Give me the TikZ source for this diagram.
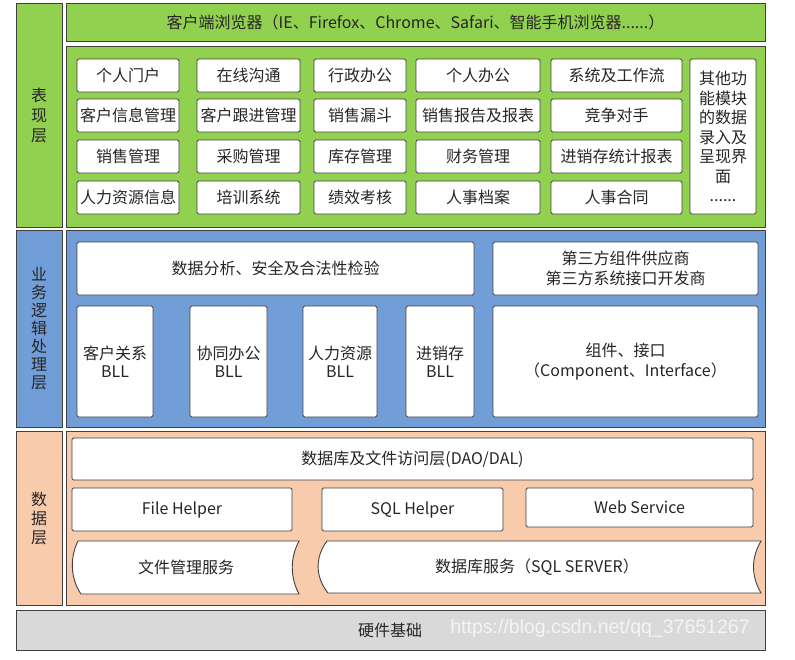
\documentclass[tikz,border=0pt]{standalone}
\usepackage{fontspec}
\setmainfont{Noto Sans CJK SC}
\newfontfamily\wmfont{Liberation Sans}
\definecolor{grn}{HTML}{92D050}
\definecolor{blu}{HTML}{729ED8}
\definecolor{pch}{HTML}{F8CBAD}
\definecolor{gry}{HTML}{D9D9D9}
\definecolor{edgec}{HTML}{404040}
\definecolor{txtc}{HTML}{262626}
\definecolor{wmc}{HTML}{F4F4F4}
\tikzset{
  bx/.style={draw=edgec, line width=0.9pt, fill=white, rounded corners=1.5pt, inner sep=0pt, align=center, text=txtc, font=\fontsize{16}{18}\selectfont},
  lyr/.style={draw=edgec, line width=0.9pt, fill=#1, inner sep=0pt, align=center, text=txtc},
  tapebox/.style={draw=edgec, line width=0.9pt, fill=white},
  txt/.style={text=txtc, font=\fontsize{16}{18}\selectfont, inner sep=0pt, align=center}
}
\newcommand\Bx[7][]{\node[bx,#1, minimum width={(#5-#3)*1pt}, minimum height={(#6-#4)*1pt}] (#2) at ({(#3+#5)/2},{(#4+#6)/2}) {#7};}
\newcommand\Ly[7][]{\node[lyr=#1, minimum width={(#5-#3)*1pt}, minimum height={(#6-#4)*1pt}] (#2) at ({(#3+#5)/2},{(#4+#6)/2}) {#7};}
\begin{document}
\begin{tikzpicture}[x=1pt,y=-1pt]
\useasboundingbox (0,0) rectangle (795,659);
\fill[white] (0,0) rectangle (795,659);
% presentation layer
\Ly[grn, font=\fontsize{16}{20}\selectfont]{Lp}{16}{3}{62}{227}{表\\现\\层}
\Ly[grn, font=\fontsize{16}{18}\selectfont]{brw}{66}{3}{765}{41}{客户端浏览器（IE、Firefox、Chrome、Safari、智能手机浏览器......）}
\Ly[grn]{Mp}{66}{46}{765}{227}{}
\Bx{p11}{77}{59}{179}{92}{个人门户}
\Bx{p12}{197}{59}{300}{92}{在线沟通}
\Bx{p13}{314}{59}{406}{92}{行政办公}
\Bx{p14}{416}{59}{540}{92}{个人办公}
\Bx{p15}{551}{59}{682}{92}{系统及工作流}
\Bx{p21}{77}{99}{179}{132}{客户信息管理}
\Bx{p22}{197}{99}{300}{132}{客户跟进管理}
\Bx{p23}{314}{99}{406}{132}{销售漏斗}
\Bx{p24}{416}{99}{540}{132}{销售报告及报表}
\Bx{p25}{551}{99}{682}{132}{竞争对手}
\Bx{p31}{77}{140}{179}{173}{销售管理}
\Bx{p32}{197}{140}{300}{173}{采购管理}
\Bx{p33}{314}{140}{406}{173}{库存管理}
\Bx{p34}{416}{140}{540}{173}{财务管理}
\Bx{p35}{551}{140}{682}{173}{进销存统计报表}
\Bx{p41}{77}{181}{179}{214}{人力资源信息}
\Bx{p42}{197}{181}{300}{214}{培训系统}
\Bx{p43}{314}{181}{406}{214}{绩效考核}
\Bx{p44}{416}{181}{540}{214}{人事档案}
\Bx{p45}{551}{181}{682}{214}{人事合同}
\Bx[font=\fontsize{16}{19.5}\selectfont]{p6}{690}{59}{756}{214}{其他功\\能模块\\的数据\\录入及\\呈现界\\面\\......}
% business layer
\Ly[blu, font=\fontsize{16}{18}\selectfont]{Lb}{16}{230}{62}{427}{业\\务\\逻\\辑\\处\\理\\层}
\Ly[blu]{Mb}{66}{230}{765}{427}{}
\Bx{da}{77}{242}{474}{295}{数据分析、安全及合法性检验}
\Bx[font=\fontsize{16}{20}\selectfont]{tp}{493}{242}{758}{295}{第三方组件供应商\\第三方系统接口开发商}
\Bx{b1}{77}{306}{153}{417}{客户关系\\BLL}
\Bx{b2}{190}{306}{267}{417}{协同办公\\BLL}
\Bx{b3}{303}{306}{377}{417}{人力资源\\BLL}
\Bx{b4}{406}{306}{474}{417}{进销存\\BLL}
\Bx[font=\fontsize{16}{20}\selectfont]{ci}{493}{306}{758}{417}{组件、接口\\（Component、Interface）}
% data layer
\Ly[pch, font=\fontsize{16}{19}\selectfont]{Ld}{16}{431}{62}{605}{数\\据\\层}
\Ly[pch]{Md}{66}{431}{765}{605}{}
\Bx{dao}{72}{438}{753}{480}{数据库及文件访问层(DAO/DAL)}
\Bx{fh}{72}{488}{292}{531}{File Helper}
\Bx{sh}{322}{488}{503}{531}{SQL Helper}
\Bx{ws}{526}{488}{753}{527}{Web Service}
\draw[tapebox] (78,541) -- (299,541) .. controls (290,558) and (290,577) .. (299,594) -- (81,594) .. controls (70,578) and (70,557) .. (78,541) -- cycle;
\node[txt] (fms) at (186,567) {文件管理服务};
\draw[tapebox] (327,541) -- (761,541) .. controls (751,558) and (751,576) .. (761,593) -- (328,593) .. controls (315,577) and (315,557) .. (327,541) -- cycle;
\node[txt] (dbs) at (537,567) {数据库服务（SQL SERVER）};
% hardware
\Ly[gry]{hw}{16}{610}{765}{650}{}
\node[txt] (hwt) at (390,630) {硬件基础};
\node[text=wmc, font=\wmfont\fontsize{19.5}{22}\selectfont, inner sep=0pt] (wm) at (600,628) {https://blog.csdn.net/qq\_37651267};
\end{tikzpicture}
\end{document}
